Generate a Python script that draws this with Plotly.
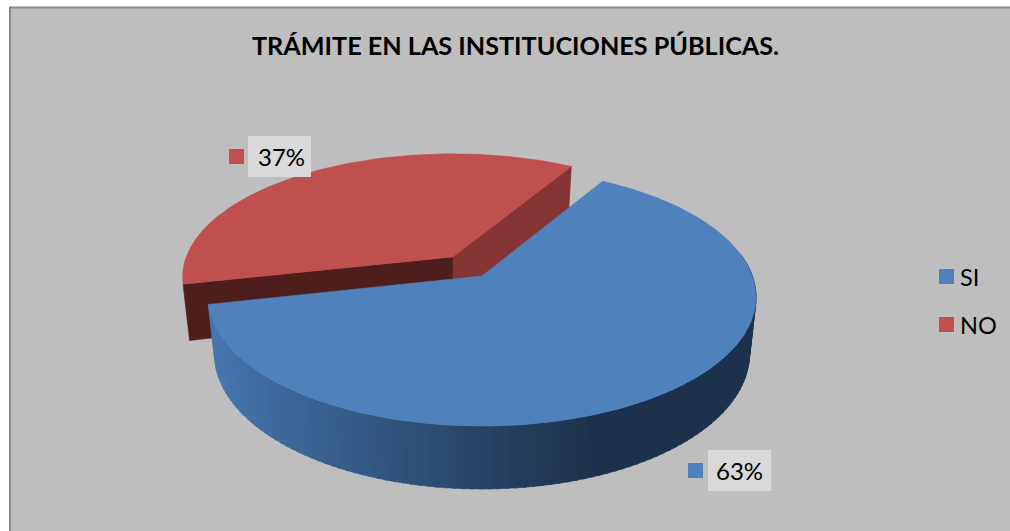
import math
import plotly.graph_objects as go

categories = ["SI", "NO"]
values = [63, 37]
title_text = "TRÁMITE EN LAS INSTITUCIONES PÚBLICAS."
slice_colors = ["#4f81bd", "#c0504d"]
red_walls = ["#4d1e1c", "#843534"]
wall_light = (70, 118, 174)
wall_dark = (28, 50, 76)

START_ANGLE = 30.6
BLUE = dict(x0=482, y0=276, a=270.4, b=125.6, k=0.163, c=57.8, c1=0.0, m=0.024)
RED = dict(x0=452.5, y0=257, a=266.3, b=120.0, k=0.163, c=54.3, c1=-9.6, m=0.024)


def project(p, deg, radius=1.0, z=0):
    t = math.radians(deg)
    u, v = radius * math.sin(t), radius * math.cos(t)
    w = 1 + p["k"] * v + p["m"] * z
    return (p["x0"] + p["a"] * u / w,
            p["y0"] - p["b"] * v / w + z * (p["c"] + p["c1"] * v) / w)


def arc(p, a0, a1, z=0, n=180):
    return [project(p, a0 + (a1 - a0) * i / n, 1.0, z) for i in range(n + 1)]


def poly(pts, color):
    xs = [q[0] for q in pts] + [pts[0][0]]
    ys = [q[1] for q in pts] + [pts[0][1]]
    return go.Scatter(x=xs, y=ys, mode="lines", fill="toself", fillcolor=color,
                      line=dict(color=color, width=0.6),
                      hoverinfo="skip", showlegend=False)


total = sum(values)
blue_end = START_ANGLE + 360.0 * values[0] / total
red_end = START_ANGLE + 360.0

traces = []
apex_t, apex_b = project(RED, 0, 0), project(RED, 0, 0, 1)
traces.append(poly([apex_t, project(RED, red_end), project(RED, red_end, 1, 1), apex_b], red_walls[1]))
traces.append(poly([apex_t, project(RED, blue_end), project(RED, blue_end, 1, 1), apex_b], red_walls[0]))
traces.append(poly([apex_t] + arc(RED, blue_end, red_end), slice_colors[1]))

steps = 110
rim_start = 80.0
for i in range(steps):
    a0 = rim_start + (blue_end - rim_start) * i / steps
    a1 = min(rim_start + (blue_end - rim_start) * (i + 1.3) / steps, blue_end)
    xm = project(BLUE, (a0 + a1) / 2)[0]
    f = min(1.0, max(0.0, (xm - 215) / (590 - 215))) ** 0.9
    col = "rgb(%d,%d,%d)" % tuple(round(wall_light[c] + (wall_dark[c] - wall_light[c]) * f) for c in range(3))
    traces.append(poly([project(BLUE, a0), project(BLUE, a1), project(BLUE, a1, 1, 1), project(BLUE, a0, 1, 1)], col))

traces.append(poly([project(BLUE, 0, 0)] + arc(BLUE, START_ANGLE, blue_end, n=260), slice_colors[0]))

key_x = [236.5, 695.5, 946.5, 946.5]
key_y = [156.5, 470.5, 276.5, 324.5]
key_c = [slice_colors[1], slice_colors[0], slice_colors[0], slice_colors[1]]
traces.append(go.Scatter(x=key_x, y=key_y, mode="markers",
                         marker=dict(symbol="square", size=15, color=key_c, line=dict(width=0)),
                         hoverinfo="skip", showlegend=False))

fig = go.Figure(traces)
fig.update_xaxes(range=[0, 1010], visible=False, fixedrange=True, domain=[0, 1])
fig.update_yaxes(range=[531, 0], visible=False, fixedrange=True, domain=[0, 1])

FONT = "Lato, Carlito, Calibri, sans-serif"


def note(x, y, text, size, bold=False, anchor="left"):
    return dict(x=x, y=y, xref="x", yref="y", text=f"<b>{text}</b>" if bold else text,
                showarrow=False, xanchor=anchor, yanchor="middle",
                font=dict(family=FONT, size=size, color="#000000"))


annotations = [
    note(515, 45, title_text, 25.2, True, "center"),
    note(281, 156.5, f"{values[1]}%", 24, anchor="center"),
    note(739.5, 470.5, f"{values[0]}%", 24, anchor="center"),
    note(958, 276.5, categories[0], 23.5),
    note(958, 324.5, categories[1], 23.5),
]

shapes = [
    dict(type="rect", xref="x", yref="y", x0=10, y0=7.5, x1=1012, y1=533, layer="below",
         fillcolor="#bebebe", line=dict(color="#898989", width=2)),
    dict(type="rect", xref="x", yref="y", x0=248, y0=136, x1=311, y1=177, layer="above",
         fillcolor="#d9d9d9", line=dict(width=0)),
    dict(type="rect", xref="x", yref="y", x0=708, y0=450, x1=771, y1=491, layer="above",
         fillcolor="#d9d9d9", line=dict(width=0)),
]

fig.update_layout(width=1010, height=531, autosize=False,
                  margin=dict(l=0, r=0, t=0, b=0),
                  paper_bgcolor="#ffffff", plot_bgcolor="rgba(0,0,0,0)",
                  showlegend=False, annotations=annotations, shapes=shapes)
fig.write_html("out.html", config=dict(displayModeBar=False),
               post_script="document.body.style.margin='0';document.body.style.overflow='hidden';")
